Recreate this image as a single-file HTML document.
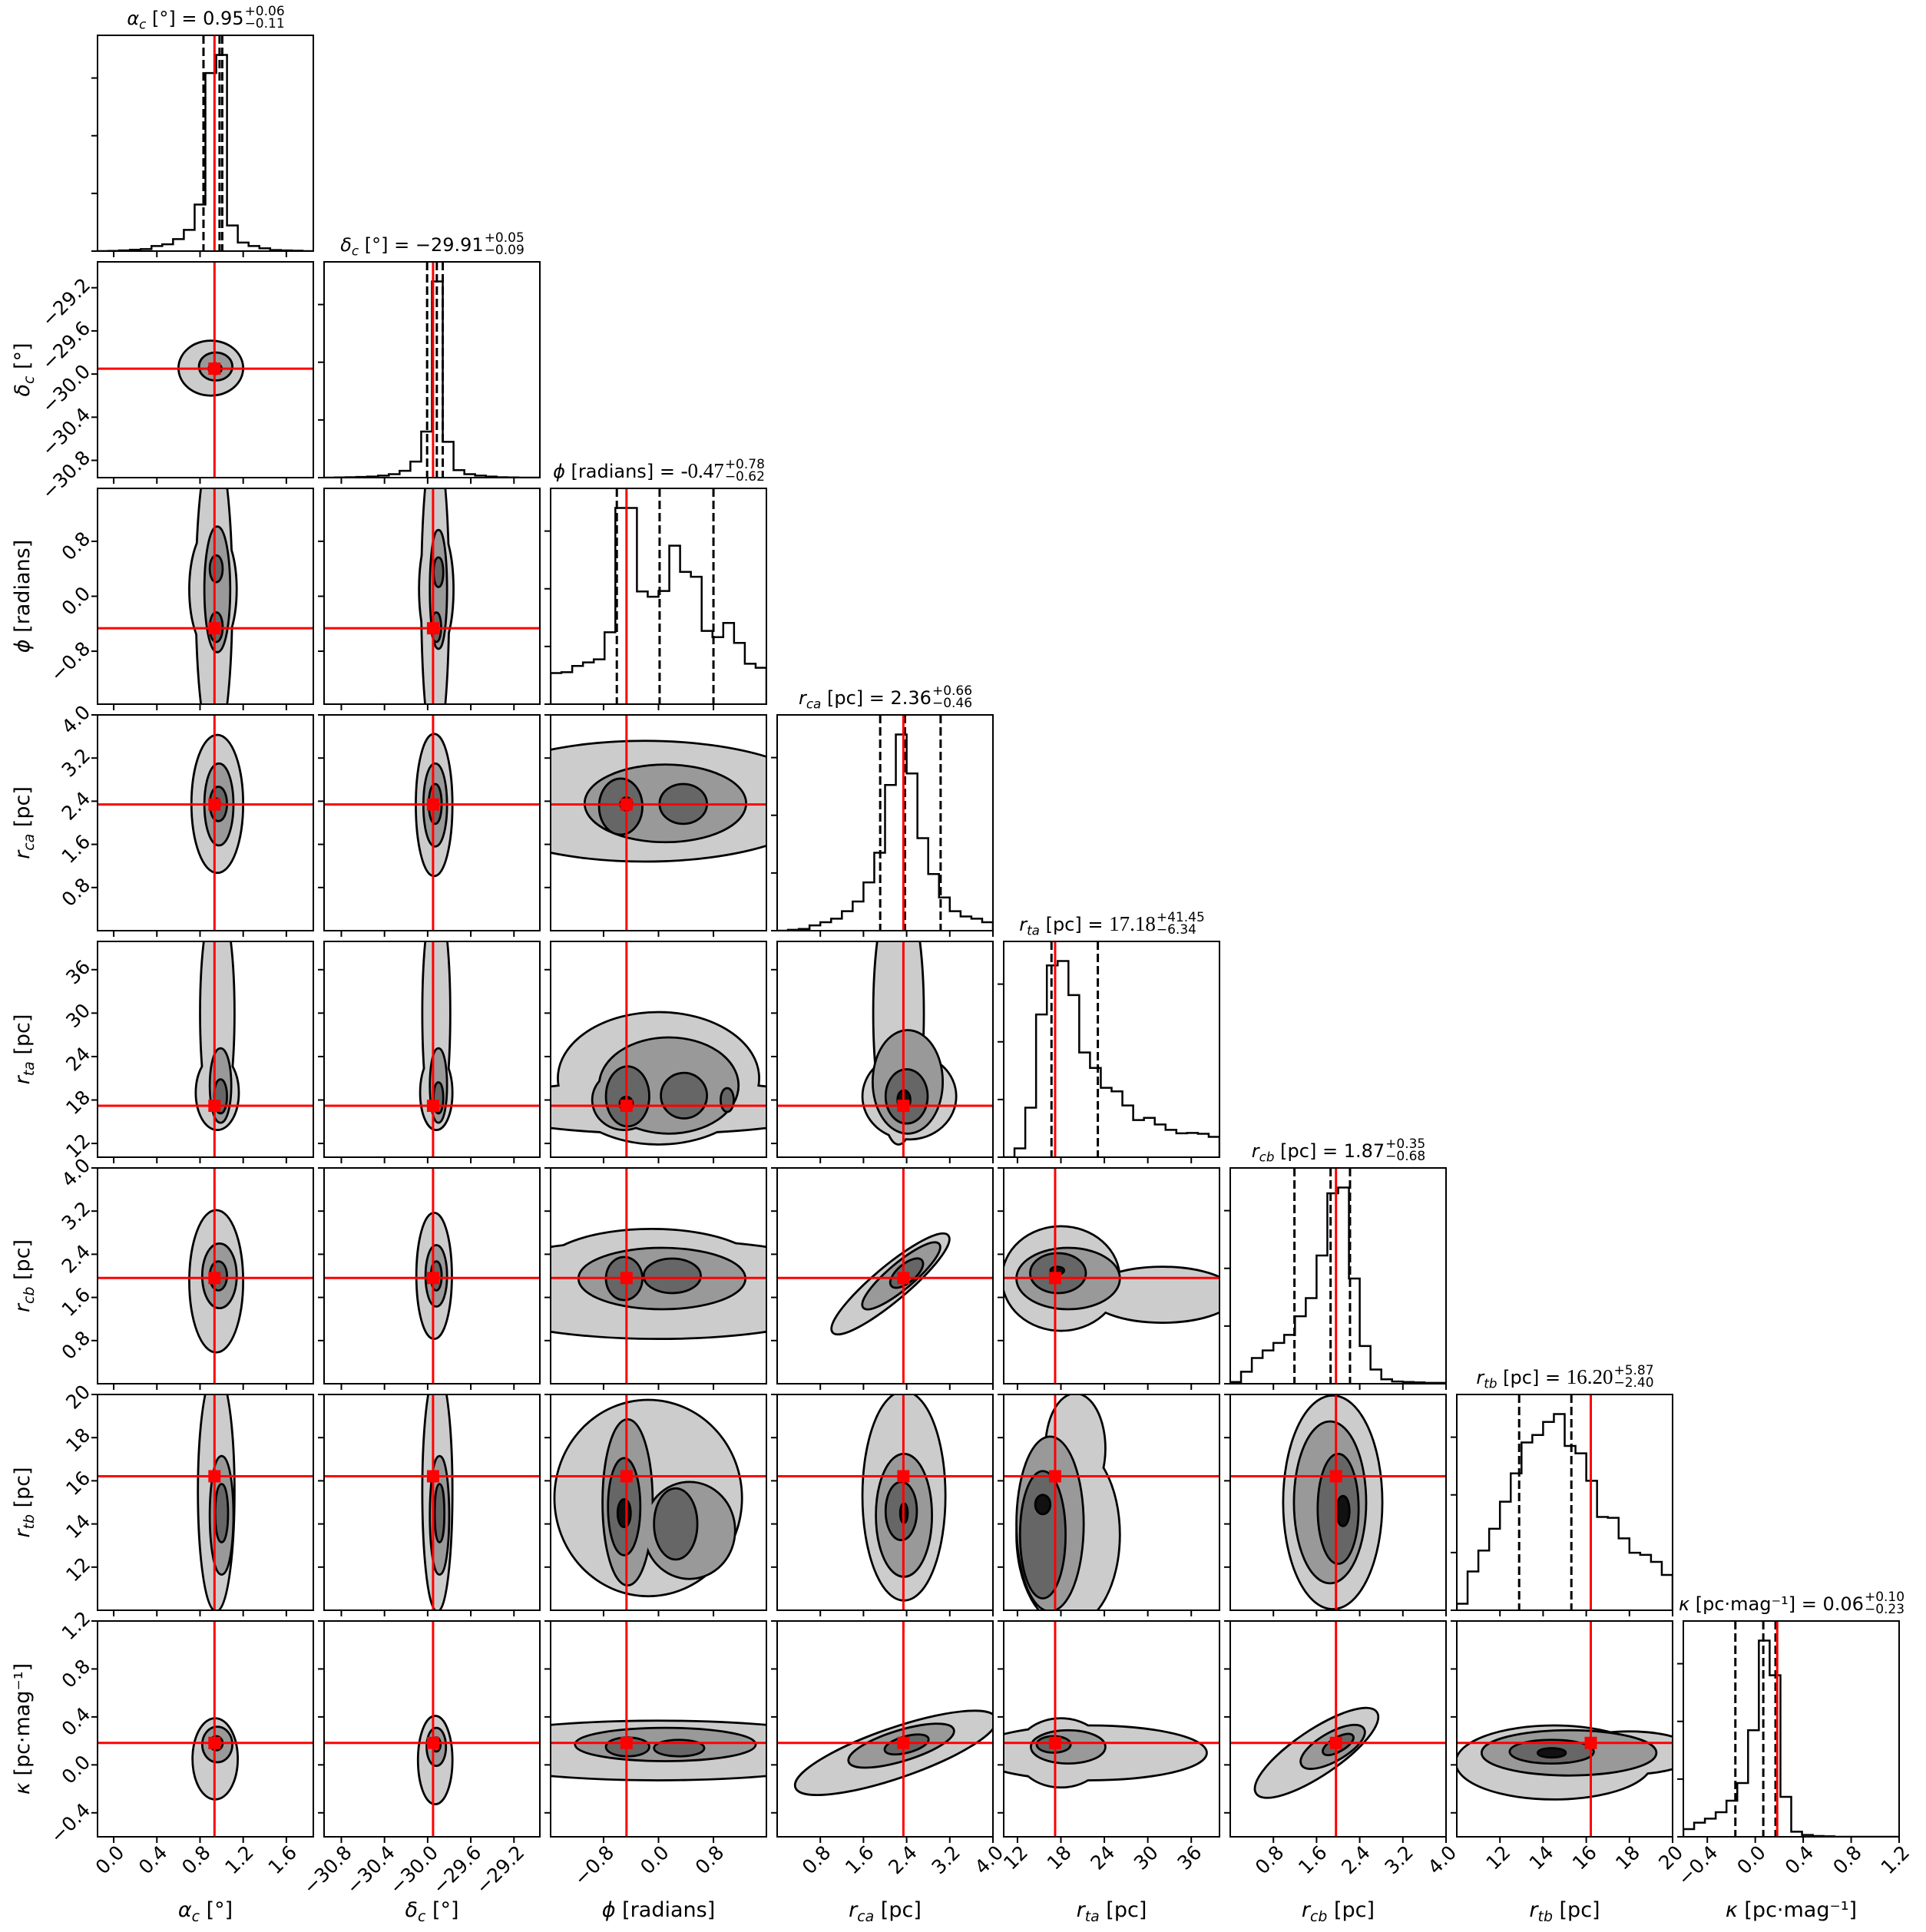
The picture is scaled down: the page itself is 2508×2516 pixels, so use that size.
<!DOCTYPE html>
<html><head><meta charset="utf-8"><style>
html,body{margin:0;padding:0;background:#fff;}
svg{display:block;font-family:"DejaVu Sans","Liberation Sans",sans-serif;}
</style></head><body>
<svg id="fig" width="2508" height="2516" viewBox="0 0 2508 2516" xmlns="http://www.w3.org/2000/svg"></svg>
<script>
// ---- data ----
const paramKeys=['alpha','delta','phi','rca','rta','rcb','rtb','kappa'];
const rangeLo=[-0.15,-30.96,-1.5708,0,10.1,0,10,-0.6];
const rangeHi=[1.85,-28.96,1.5708,4,39.9,4,20,1.2];
const truths=[0.934,-29.95,-0.466,2.34,17.2,1.96,16.21,0.183];
const dashed0=[0.832,-30.005,-0.607,1.91,16.7,1.19,12.89,-0.166];
const dashed1=[0.981,-29.915,0.016,2.37,23.1,1.86,15.31,0.067];
const dashed2=[1.006,-29.86,0.80,3.03,null,2.22,null,0.169];
const ticks0=['0.0','0.4','0.8','1.2','1.6'];
const ticks1=['−30.8','−30.4','−30.0','−29.6','−29.2'];
const ticks2=['−0.8','0.0','0.8'];
const ticks3=['0.8','1.6','2.4','3.2','4.0'];
const ticks4=['12','18','24','30','36'];
const ticks5=['0.8','1.6','2.4','3.2','4.0'];
const ticks6=['12','14','16','18','20'];
const ticks7=['−0.4','0.0','0.4','0.8','1.2'];
const h_alpha=[0,0.5,2,4,6,15,20,35,62,136,520,573,75,25,15,8,3,2,1,0];
const h_delta=[0,0.5,1,2,3,6,10,20,47,135,575,105,22,10,6,3,1,0.5,0,0];
const h_phi=[70,72,86,94,101,162,442,442,254,242,255,357,298,287,165,151,183,138,91,82];
const h_rca=[0,2,4,12,19,27,44,66,109,176,329,443,355,209,128,75,44,32,27,19];
const h_rta=[0,20,112,323,434,444,367,237,202,157,149,117,84,89,74,62,54,55,53,46];
const h_rcb=[4,27,58,75,92,110,152,193,289,429,442,237,85,32,10,5,4,3,2,2];
const h_rtb=[15,89,137,187,249,314,385,402,432,450,377,360,297,214,212,165,132,127,111,81];
const h_kappa=[30,55,71,96,141,210,416,766,631,156,20,7,3,2,0,0,0,0,0,0];
// contour blobs: [level, cx, cy, rx, ry, rotationDeg]
const c_1_0=[[1,0.90,-29.945,0.29,0.245,0],[2,0.945,-29.93,0.145,0.12,0],[3,0.94,-29.95,0.05,0.04,0]];
const c_2_0=[[1,0.93,0,0.16,2.2,0],[1,0.92,0.1,0.21,0.9,0],[2,0.96,0.1,0.11,0.9,0],[3,0.95,0.4,0.05,0.18,0],[3,0.95,-0.45,0.05,0.2,0]];
const c_2_1=[[1,-29.93,0,0.12,2.2,0],[1,-29.92,0.1,0.15,0.9,0],[2,-29.9,0.1,0.07,0.85,0],[3,-29.9,0.35,0.035,0.2,0],[3,-29.92,-0.45,0.035,0.2,0]];
const c_3_0=[[1,0.96,2.35,0.23,1.26,0],[2,0.975,2.34,0.125,0.74,0],[3,0.97,2.35,0.07,0.3,0],[4,0.95,2.35,0.025,0.08,0]];
const c_3_1=[[1,-29.94,2.33,0.16,1.3,0],[2,-29.93,2.33,0.1,0.75,0],[3,-29.93,2.35,0.05,0.35,0]];
const c_3_2=[[1,-0.2,2.4,2.6,1.1,0],[1,0,2.2,3.0,0.65,0],[2,0.1,2.36,1.16,0.7,0],[3,-0.55,2.3,0.3,0.5,0],[3,0.36,2.35,0.33,0.35,0],[4,-0.47,2.35,0.07,0.1,0]];
const c_4_0=[[1,0.96,30,0.15,15.5,0],[1,0.96,19,0.19,5,0],[2,0.99,20,0.09,5,0],[3,0.99,18.5,0.05,2.2,0]];
const c_4_1=[[1,-29.92,30,0.12,15.5,0],[1,-29.92,19,0.14,5,0],[2,-29.9,20,0.07,5,0],[3,-29.9,18.3,0.035,2,0]];
const c_4_2=[[1,0,21,1.45,9,0],[1,0,17,2.5,3.5,0],[2,0.15,20,1.0,6.5,0],[2,-0.5,18,0.45,4,0],[3,-0.45,18.5,0.3,4,0],[3,0.37,18.6,0.32,3,0],[3,1.0,18,0.08,1.5,0],[4,-0.47,17.5,0.08,0.8,0]];
const c_4_3=[[1,2.25,30,0.45,18,0],[1,2.45,18.5,0.85,5.8,0],[2,2.42,20.5,0.63,7,0],[3,2.4,18.5,0.37,3.6,0],[4,2.35,18,0.1,1.2,0]];
const c_5_0=[[1,0.95,1.9,0.24,1.3,0],[2,0.98,2.0,0.15,0.58,0],[3,0.97,2.0,0.07,0.25,0]];
const c_5_1=[[1,-29.94,2.0,0.155,1.15,0],[2,-29.92,2.0,0.09,0.55,0],[3,-29.92,2.0,0.04,0.25,0]];
const c_5_2=[[1,0,1.75,3,0.9,0],[1,-0.1,2.1,1.6,0.75,0],[2,0.05,1.95,1.2,0.55,0],[3,-0.5,1.95,0.25,0.38,0],[3,0.2,2.0,0.4,0.3,0]];
const c_5_3=[[1,2.1,1.85,1.38,0.3,-40],[2,2.3,2.0,0.9,0.22,-40],[3,2.4,2.05,0.35,0.15,-40]];
const c_5_4=[[1,18,1.95,8,0.95,0],[1,32,1.65,10,0.5,0],[2,19,1.95,7,0.55,0],[3,17.6,2.05,3.7,0.35,0],[4,17.5,2.1,0.8,0.05,0]];
const c_6_0=[[1,0.95,15.5,0.16,5.5,0],[2,1.0,14.4,0.1,2.7,0],[3,1.0,14.5,0.05,1.3,0]];
const c_6_1=[[1,-29.91,15.5,0.13,5.5,0],[2,-29.89,14.4,0.08,2.7,0],[3,-29.89,14.5,0.035,1.3,0]];
const c_6_2=[[1,-0.15,15.2,1.35,4.5,0],[2,-0.45,15,0.35,3.8,0],[2,0.45,13.7,0.65,2.2,0],[3,-0.5,14.8,0.22,2.2,0],[3,0.25,14,0.3,1.6,0],[4,-0.5,14.5,0.08,0.6,0]];
const c_6_3=[[1,2.35,15.3,0.75,4.8,0],[2,2.35,14.4,0.5,2.8,0],[3,2.3,14.6,0.27,1.3,0],[4,2.35,14.5,0.05,0.4,0]];
const c_6_4=[[1,19,13.5,7,4.2,0],[1,20,17.5,4,2.5,0],[2,16.5,14,4.5,4,0],[3,15.5,13.5,3,2.9,0],[4,15.5,14.9,0.9,0.4,0]];
const c_6_5=[[1,1.9,15,0.9,4.9,0],[2,1.85,15,0.65,3.7,0],[3,2.0,14.7,0.36,2.5,0],[4,2.09,14.6,0.1,0.65,0]];
const c_7_0=[[1,0.94,0.05,0.2,0.33,0],[2,0.96,0.17,0.13,0.14,0],[3,0.95,0.18,0.05,0.05,0]];
const c_7_1=[[1,-29.93,0.04,0.15,0.36,0],[2,-29.92,0.15,0.08,0.15,0],[3,-29.92,0.17,0.03,0.05,0]];
const c_7_2=[[1,0,0.12,3,0.24,0],[2,0.1,0.17,1.3,0.13,0],[3,-0.45,0.15,0.3,0.07,0],[3,0.3,0.14,0.35,0.06,0]];
const c_7_3=[[1,2.2,0.1,1.95,0.2,-19],[2,2.3,0.16,1.0,0.12,-17],[3,2.4,0.17,0.4,0.06,-15]];
const c_7_4=[[1,22,0.1,16,0.22,0],[1,18,0.1,6,0.28,0],[2,19,0.15,5,0.13,0],[3,17,0.17,2.2,0.06,0]];
const c_7_5=[[1,1.6,0.1,1.33,0.18,-34],[2,1.9,0.15,0.65,0.11,-30],[3,2.0,0.17,0.3,0.05,-30]];
const c_7_6=[[1,14.5,0.02,4.5,0.3,0],[1,18,0.1,3,0.17,0],[2,15.2,0.1,4.0,0.18,0],[3,14.4,0.11,1.9,0.09,0],[4,14.4,0.1,0.6,0.03,0]];

const hists=[h_alpha,h_delta,h_phi,h_rca,h_rta,h_rcb,h_rtb,h_kappa];
const tickSets=[ticks0,ticks1,ticks2,ticks3,ticks4,ticks5,ticks6,ticks7];
const contours={'1_0':c_1_0,'2_0':c_2_0,'2_1':c_2_1,'3_0':c_3_0,'3_1':c_3_1,'3_2':c_3_2,'4_0':c_4_0,'4_1':c_4_1,'4_2':c_4_2,'4_3':c_4_3,'5_0':c_5_0,'5_1':c_5_1,'5_2':c_5_2,'5_3':c_5_3,'5_4':c_5_4,'6_0':c_6_0,'6_1':c_6_1,'6_2':c_6_2,'6_3':c_6_3,'6_4':c_6_4,'6_5':c_6_5,'7_0':c_7_0,'7_1':c_7_1,'7_2':c_7_2,'7_3':c_7_3,'7_4':c_7_4,'7_5':c_7_5,'7_6':c_7_6};

// ---- layout ----
const NS='http://www.w3.org/2000/svg';
const svg=document.getElementById('fig');
const L0=127,T0=46,W=281,P=295;
const levelFill=['','#cccccc','#999999','#666666','#111111'];
function el(tag,attrs,parent){const e=document.createElementNS(NS,tag);for(const k in attrs)e.setAttribute(k,attrs[k]);(parent||svg).appendChild(e);return e;}
function tv(s){return parseFloat(s.replace('−','-'));}
function X(j,v){return L0+j*P+(v-rangeLo[j])/(rangeHi[j]-rangeLo[j])*W;}
function Y(i,v){return T0+i*P+W-(v-rangeLo[i])/(rangeHi[i]-rangeLo[i])*W;}

const defs=el('defs',{});
for(let i=0;i<8;i++)for(let j=0;j<=i;j++){
  const cp=el('clipPath',{id:'cp'+i+'_'+j},defs);
  el('rect',{x:L0+j*P,y:T0+i*P,width:W,height:W},cp);
}

function xTicks(g,i,j){
  const yb=T0+i*P+W;
  tickSets[j].forEach(s=>{
    const tx=X(j,tv(s));
    const t=el('line',{x1:tx,y1:yb,x2:tx,y2:yb+8,stroke:'#000','stroke-width':2},g);
    
    
    if(i===7){
      const lb=el('text',{transform:`translate(${tx+9},${yb+16}) rotate(-45)`,'text-anchor':'end','dominant-baseline':'central','font-size':25},g);
      lb.textContent=s;
      
      
    }
  });
}
function yTicks(g,i,j){
  const xl=L0+j*P;
  tickSets[i].forEach(s=>{
    const ty=Y(i,tv(s));
    const t=el('line',{x1:xl,y1:ty,x2:xl-8,y2:ty,stroke:'#000','stroke-width':2},g);
    
    
    if(j===0){
      const lb=el('text',{transform:`translate(${xl-14},${ty-8}) rotate(-45)`,'text-anchor':'end','dominant-baseline':'central','font-size':25},g);
      lb.textContent=s;
      
      
    }
  });
}

// histograms
for(let k=0;k<8;k++){
  const g=el('g',{});
  
  
  const h=hists[k];const n=h.length;const ymax=1.1*Math.max(...h);
  const x0=L0+k*P,y0=T0+k*P,yb=y0+W;
  const bx=b=>X(k,rangeLo[k]+(rangeHi[k]-rangeLo[k])*b/n);
  const by=v=>yb-v/ymax*W;
  let d=`M${bx(0)},${yb}`;
  for(let b=0;b<n;b++){d+=` L${bx(b)},${by(h[b])} L${bx(b+1)},${by(h[b])}`;}
  d+=` L${bx(n)},${yb}`;
  const cg=el('g',{'clip-path':`url(#cp${k}_${k})`},g);
  const p=el('path',{d:d,fill:'none',stroke:'#000','stroke-width':2.5},cg);
  
  
  [dashed0[k],dashed1[k],dashed2[k]].forEach(v=>{
    if(v===null)return;
    const l=el('line',{x1:X(k,v),x2:X(k,v),y1:y0,y2:yb,stroke:'#000','stroke-width':3,'stroke-dasharray':'11,5'},cg);
    
    
  });
  const rl=el('line',{x1:X(k,truths[k]),x2:X(k,truths[k]),y1:y0,y2:yb,stroke:'#ff0000','stroke-width':3},cg);
  
  
  const fr=el('rect',{x:x0,y:y0,width:W,height:W,fill:'none',stroke:'#000','stroke-width':2},g);
  
  
  const step=Math.max(...h)/3.4;
  for(let t=0;t<=3;t++){
    const ty=by(t*step);
    const tl=el('line',{x1:x0,y1:ty,x2:x0-8,y2:ty,stroke:'#000','stroke-width':2},g);
    
    
  }
  xTicks(g,k,k);
}

// 2D panels
for(let i=1;i<8;i++)for(let j=0;j<i;j++){
  const g=el('g',{});
  
  
  const x0=L0+j*P,y0=T0+i*P;
  const cg=el('g',{'clip-path':`url(#cp${i}_${j})`},g);
  const blobs=contours[i+'_'+j];
  const sx=W/(rangeHi[j]-rangeLo[j]),sy=W/(rangeHi[i]-rangeLo[i]);
  for(let lv=1;lv<=4;lv++){
    const list=blobs.filter(b=>b[0]===lv);
    [true,false].forEach(strokePass=>{
      list.forEach(b=>{
        const cx=X(j,b[1]),cy=Y(i,b[2]);
        const e=el('ellipse',{cx:cx,cy:cy,rx:b[3]*sx,ry:b[4]*sy,transform:`rotate(${b[5]} ${cx} ${cy})`,fill:levelFill[lv],stroke:strokePass?'#000':'none','stroke-width':strokePass?5.5:0},cg);
        
        
      });
    });
  }
  const tx=X(j,truths[j]),ty=Y(i,truths[i]);
  const v=el('line',{x1:tx,x2:tx,y1:y0,y2:y0+W,stroke:'#ff0000','stroke-width':3},cg);
  
  
  const hl=el('line',{x1:x0,x2:x0+W,y1:ty,y2:ty,stroke:'#ff0000','stroke-width':3},cg);
  
  
  const m=el('rect',{x:tx-8,y:ty-8,width:16,height:16,fill:'#ff0000'},cg);
  
  
  const fr=el('rect',{x:x0,y:y0,width:W,height:W,fill:'none',stroke:'#000','stroke-width':2},g);
  
  
  xTicks(g,i,j);
  yTicks(g,i,j);
}

// axis titles
const labelSym=[['α','c'],['δ','c'],['ϕ',''],['r','ca'],['r','ta'],['r','cb'],['r','tb'],['κ','']];
const labelUnit=['  [°]','  [°]',' [radians]',' [pc]',' [pc]',' [pc]',' [pc]',' [pc·mag⁻¹]'];
function labelText(parent,k,attrs,size){
  const t=el('text',attrs,parent);
  t.setAttribute('font-size',size);
  t.setAttribute('xml:space','preserve');
  const a=el('tspan',{'font-style':'italic'},t);a.textContent=labelSym[k][0];
  if(labelSym[k][1]){const b=el('tspan',{'font-style':'italic','font-size':size*0.7,dy:size*0.22},t);b.textContent=labelSym[k][1];
    const c=el('tspan',{dy:-size*0.22},t);c.textContent=labelUnit[k];}
  else{const c=el('tspan',{},t);c.textContent=labelUnit[k];}
  return t;
}
for(let k=0;k<8;k++){
  const cx=L0+k*P+W/2;
  const t=labelText(svg,k,{x:cx,y:2496,'text-anchor':'middle'},27);
  
  
  if(k>0){
    const cy=T0+k*P+W/2;
    const t2=labelText(svg,k,{transform:`translate(38,${cy}) rotate(-90)`,'text-anchor':'middle'},27);
    
    
  }
}
// panel titles
const titleVal=['0.95','−29.91','-0.47','2.36','17.18','1.87','16.20','0.06'];
const titleUp=['+0.06','+0.05','+0.78','+0.66','+41.45','+0.35','+5.87','+0.10'];
const titleDn=['−0.11','−0.09','−0.62','−0.46','−6.34','−0.68','−2.40','−0.23'];
const serifVal=[false,false,true,false,true,false,true,false];
for(let k=0;k<8;k++){
  const g=el('g',{});
  
  
  const base=T0+k*P-14;
  const t=labelText(g,k,{x:0,y:base},24);
  const eq=el('tspan',{},t);eq.textContent=' = ';
  const v=el('tspan',serifVal[k]?{'font-family':'Liberation Serif, serif','font-size':27}:{},t);v.textContent=titleVal[k];
  const w1=t.getComputedTextLength();
  const up=el('text',{x:w1+1,y:base-12,'font-size':17},g);up.textContent=titleUp[k];
  const dn=el('text',{x:w1+1,y:base+4,'font-size':17},g);dn.textContent=titleDn[k];
  const w2=Math.max(up.getComputedTextLength(),dn.getComputedTextLength());
  const cx=L0+k*P+W/2;
  g.setAttribute('transform',`translate(${cx-(w1+w2)/2},0)`);
}
</script>
</body></html>
